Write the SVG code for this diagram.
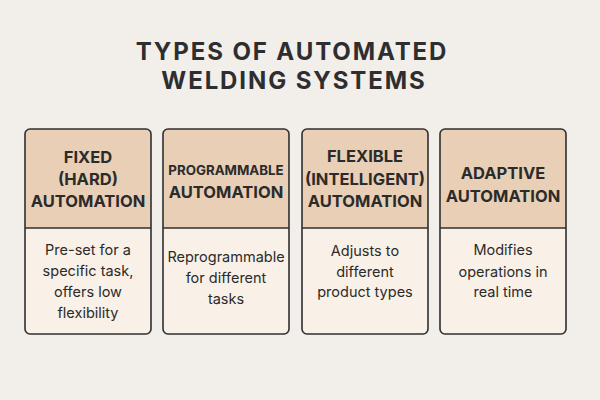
<svg xmlns="http://www.w3.org/2000/svg" width="600" height="400" viewBox="0 0 600 400">
<style>
.bg{fill:#F2EEEA}
.title{font-family:Inter,"Liberation Sans",sans-serif;font-weight:700;font-size:24px;letter-spacing:1.9px;fill:#2E2E30;text-anchor:middle}
.head{fill:#E8CFB5}
.body{fill:#F9F1E7}
.frame{fill:none;stroke:#2F2F2F;stroke-width:1.6}
.div{stroke:#2F2F2F;stroke-width:1.6}
.h{font-family:Inter,"Liberation Sans",sans-serif;font-weight:700;font-size:16.5px;fill:#2B2B2B;text-anchor:middle}
.hs{font-size:13.3px}
.b{font-family:Inter,"Liberation Sans",sans-serif;font-size:14.5px;fill:#2B2B2B;text-anchor:middle}
</style>
<defs>
<clipPath id="c1"><rect x="25" y="129" width="126" height="205" rx="5"/></clipPath>
<clipPath id="c2"><rect x="163" y="129" width="126" height="205" rx="5"/></clipPath>
<clipPath id="c3"><rect x="302" y="129" width="126" height="205" rx="5"/></clipPath>
<clipPath id="c4"><rect x="440" y="129" width="126" height="205" rx="5"/></clipPath>
</defs>
<rect class="bg" x="0" y="0" width="600" height="400"/>
<g id="title">
<text class="title" x="292" y="60">TYPES OF AUTOMATED</text>
<text class="title" x="294" y="89">WELDING SYSTEMS</text>
</g>
<g id="fixed">
<g clip-path="url(#c1)"><rect class="head" x="25" y="129" width="126" height="99"/><rect class="body" x="25" y="228" width="126" height="106"/></g>
<rect class="frame" x="25" y="129" width="126" height="205" rx="5"/>
<line class="div" x1="25" y1="228" x2="151" y2="228"/>
<text class="h" x="88" y="163">FIXED</text>
<text class="h" x="88" y="185">(HARD)</text>
<text class="h" x="88" y="207">AUTOMATION</text>
<text class="b" x="88" y="255">Pre-set for a</text>
<text class="b" x="88" y="276">specific task,</text>
<text class="b" x="88" y="297">offers low</text>
<text class="b" x="88" y="318">flexibility</text>
</g>
<g id="programmable">
<g clip-path="url(#c2)"><rect class="head" x="163" y="129" width="126" height="99"/><rect class="body" x="163" y="228" width="126" height="106"/></g>
<rect class="frame" x="163" y="129" width="126" height="205" rx="5"/>
<line class="div" x1="163" y1="228" x2="289" y2="228"/>
<text class="h hs" x="226" y="175">PROGRAMMABLE</text>
<text class="h" x="226" y="198">AUTOMATION</text>
<text class="b" x="226" y="262">Reprogrammable</text>
<text class="b" x="226" y="283">for different</text>
<text class="b" x="226" y="304">tasks</text>
</g>
<g id="flexible">
<g clip-path="url(#c3)"><rect class="head" x="302" y="129" width="126" height="99"/><rect class="body" x="302" y="228" width="126" height="106"/></g>
<rect class="frame" x="302" y="129" width="126" height="205" rx="5"/>
<line class="div" x1="302" y1="228" x2="428" y2="228"/>
<text class="h" x="365" y="162">FLEXIBLE</text>
<text class="h" x="365" y="185">(INTELLIGENT)</text>
<text class="h" x="365" y="207">AUTOMATION</text>
<text class="b" x="365" y="256">Adjusts to</text>
<text class="b" x="365" y="277">different</text>
<text class="b" x="365" y="297">product types</text>
</g>
<g id="adaptive">
<g clip-path="url(#c4)"><rect class="head" x="440" y="129" width="126" height="99"/><rect class="body" x="440" y="228" width="126" height="106"/></g>
<rect class="frame" x="440" y="129" width="126" height="205" rx="5"/>
<line class="div" x1="440" y1="228" x2="566" y2="228"/>
<text class="h" x="503" y="179">ADAPTIVE</text>
<text class="h" x="503" y="202">AUTOMATION</text>
<text class="b" x="503" y="255">Modifies</text>
<text class="b" x="503" y="277">operations in</text>
<text class="b" x="503" y="297">real time</text>
</g>
<g id="connectors"></g>
</svg>
